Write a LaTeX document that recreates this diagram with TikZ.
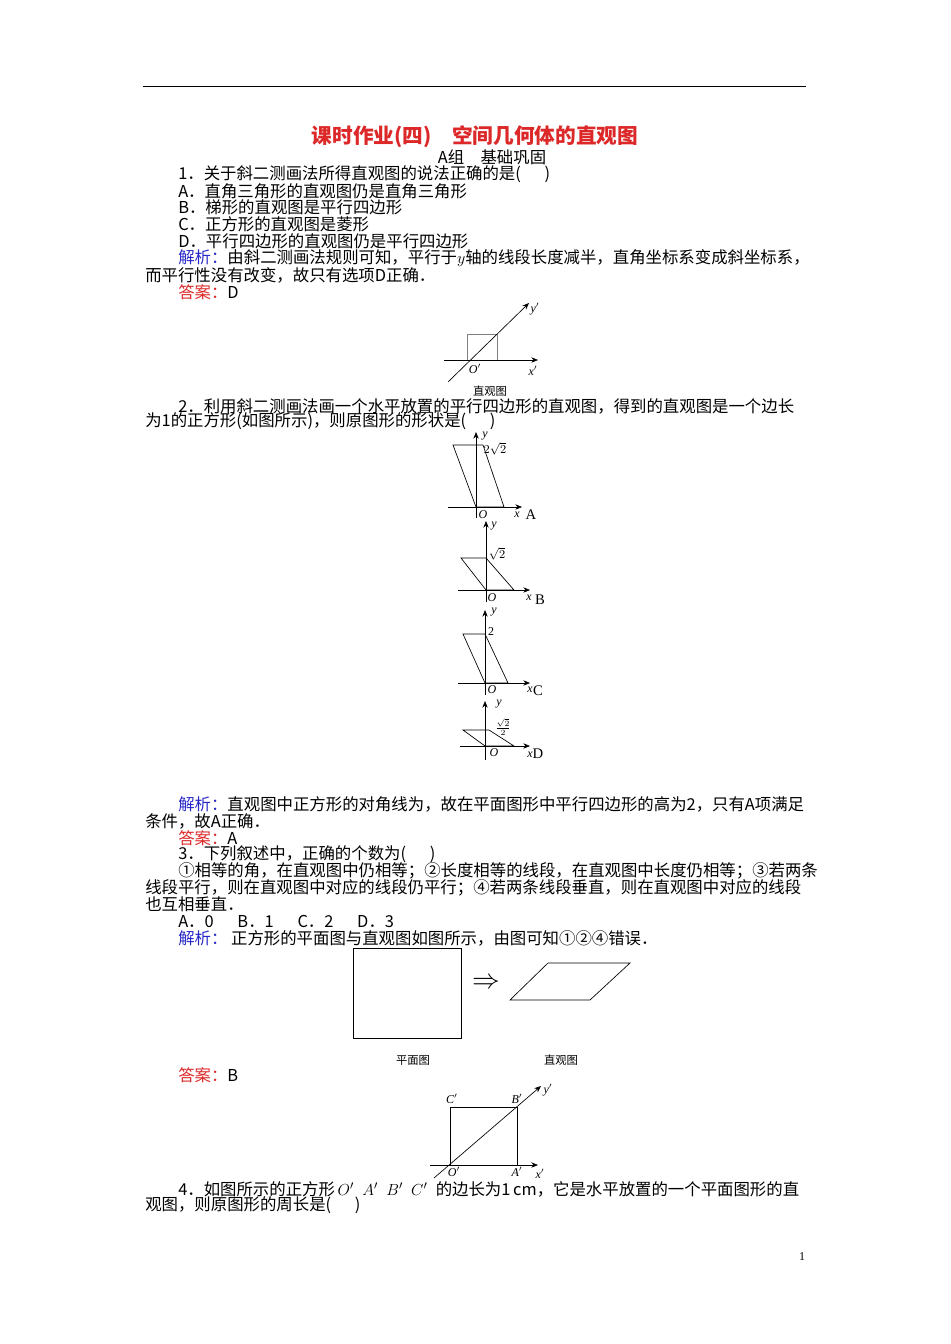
\documentclass[tikz,border=0pt]{standalone}
\usepackage{fontspec}
\setmainfont{Liberation Serif}
\newfontfamily\cjk{Noto Sans CJK SC}
\usetikzlibrary{arrows.meta}
\definecolor{jx}{RGB}{40,40,200}
\definecolor{da}{RGB}{220,40,40}
\tikzset{
 txt/.style={anchor=west,inner sep=0pt,font=\cjk\fontsize{12.3}{13}\selectfont},
 lbl/.style={inner sep=0pt,font=\fontsize{9}{10}\selectfont\itshape},
 capt/.style={inner sep=0pt,font=\cjk\fontsize{8.5}{9}\selectfont},
 ax/.style={-{Stealth[length=5pt,width=4pt]},line width=0.5pt},
 fig/.style={line width=0.5pt}
}
\newcommand{\JX}{{\color{jx}解析：}}
\newcommand{\DA}{{\color{da}答案：}}
\begin{document}
\begin{tikzpicture}[x=0.75pt,y=-0.75pt]
\useasboundingbox[fill=white] (0,0) rectangle (950,1344);
\draw[line width=0.7pt] (143,86) coordinate (r1) -- (806,86) coordinate (r2);
\node[inner sep=0pt,font=\cjk\bfseries\fontsize{15.5}{17}\selectfont,text=da] (title) at (475,137) {课时作业(四)\quad 空间几何体的直观图};
\node[txt,anchor=center] (grp) at (492,157) {A组\quad 基础巩固};
\node[txt] (l1) at (178,174) {1．关于斜二测画法所得直观图的说法正确的是(\quad\ \ )};
\node[txt] (l2) at (178,191) {A．直角三角形的直观图仍是直角三角形};
\node[txt] (l3) at (178,207) {B．梯形的直观图是平行四边形};
\node[txt] (l4) at (178,224) {C．正方形的直观图是菱形};
\node[txt] (l5) at (178,241) {D．平行四边形的直观图仍是平行四边形};
\node[txt] (l6) at (178,258) {\JX 由斜二测画法规则可知，平行于$y$轴的线段长度减半，直角坐标系变成斜坐标系，};
\node[txt] (l7) at (145,275) {而平行性没有改变，故只有选项D正确．};
\node[txt] (l8) at (178,292) {\DA D};
% fig 1
\draw[fig,gray] (467,360) rectangle (497,334);
\coordinate (a1) at (444,360); \coordinate (a2) at (538,360);
\draw[ax] (a1) -- (a2);
\coordinate (d1) at (448,382); \coordinate (d2) at (529,303);
\draw[ax] (d1) -- (d2);
\node[lbl] (o1) at (475,369) {O$'$};
\node[lbl] (x1) at (533,371) {x$'$};
\node[lbl] (y1) at (535,309) {y$'$};
\node[capt] (c1) at (490,391) {直观图};
\node[txt] (l9) at (178,406) {2．利用斜二测画法画一个水平放置的平行四边形的直观图，得到的直观图是一个边长};
\node[txt] (l10) at (145,421) {为1的正方形(如图所示)，则原图形的形状是(\quad\ \ )};
% A
\draw[ax] (448,507) -- (522,507);
\draw[ax] (476,518) -- (476,432);
\draw[fig] (453,445) -- (483,445) -- (504,507) -- (476,507) -- cycle;
\node[lbl,font=\fontsize{9}{10}\selectfont] at (495,449) {$2\sqrt{2}$};
\node[lbl] at (483,515) {O}; \node[lbl] at (517,515) {x}; \node[lbl] at (485,436) {y};
\node[inner sep=0pt,font=\fontsize{11}{11}\selectfont] at (531,515) {A};
% B
\draw[ax] (458,590) -- (530,590);
\draw[ax] (486,602) -- (486,521);
\draw[fig] (461,558) -- (486,558) -- (514,590) -- (486,590) -- cycle;
\node[lbl,font=\fontsize{9}{10}\selectfont] at (497,554) {$\sqrt{2}$};
\node[lbl] at (492,598) {O}; \node[lbl] at (529,598) {x}; \node[lbl] at (494,526) {y};
\node[inner sep=0pt,font=\fontsize{11}{11}\selectfont] at (540,600) {B};
% C
\draw[ax] (458,683) -- (530,683);
\draw[ax] (485,695) -- (485,610);
\draw[fig] (463,634) -- (485,634) -- (508,683) -- (485,683) -- cycle;
\node[lbl,font=\fontsize{9}{10}\selectfont] at (491,632) {2};
\node[lbl] at (492,690) {O}; \node[lbl] at (530,690) {x}; \node[lbl] at (494,612) {y};
\node[inner sep=0pt,font=\fontsize{11}{11}\selectfont] at (538,691) {C};
% D
\draw[ax] (460,746) -- (530,746);
\draw[ax] (485,760) -- (485,701);
\draw[fig] (463,730) -- (489,730) -- (514,746) -- (485,746) -- cycle;
\node[lbl,font=\fontsize{9}{10}\selectfont] at (503,727) {$\frac{\sqrt{2}}{2}$};
\node[lbl] at (494,753) {O}; \node[lbl] at (530,755) {x}; \node[lbl] at (499,704) {y};
\node[inner sep=0pt,font=\fontsize{11}{11}\selectfont] at (538,754) {D};
\node[txt] (l11) at (178,804) {\JX 直观图中正方形的对角线为，故在平面图形中平行四边形的高为2，只有A项满足};
\node[txt] (l12) at (145,821) {条件，故A正确．};
\node[txt] (l13) at (178,838) {\DA A};
\node[txt] (l14) at (178,854) {3．下列叙述中，正确的个数为(\quad\ \ )};
\node[txt] (l15) at (178,871) {①相等的角，在直观图中仍相等；②长度相等的线段，在直观图中长度仍相等；③若两条};
\node[txt] (l16) at (145,888) {线段平行，则在直观图中对应的线段仍平行；④若两条线段垂直，则在直观图中对应的线段};
\node[txt] (l17) at (145,904) {也互相垂直．};
\node[txt] (l18) at (178,921) {A．0\quad\ \ B．1\quad\ \ C．2\quad\ \ D．3};
\node[txt] (l19) at (178,938) {\JX\ 正方形的平面图与直观图如图所示，由图可知①②④错误．};
\draw[fig] (353,948) rectangle (461,1038);
\node[inner sep=0pt,font=\fontsize{20}{20}\selectfont] (arr) at (486,983) {$\Rightarrow$};
\draw[fig] (510,1000) -- (548,963) -- (630,963) -- (590,1000) -- cycle;
\node[capt] (c2) at (413,1060) {平面图};
\node[capt] (c3) at (561,1060) {直观图};
\node[txt] (l20) at (178,1075) {\DA B};
% fig 4
\draw[fig] (450,1165) rectangle (517,1107);
\draw[ax] (430,1165) -- (538,1165);
\draw[ax] (434,1178) -- (541,1086);
\node[lbl] at (452,1099) {C$'$}; \node[lbl] at (517,1099) {B$'$}; \node[lbl] at (548,1090) {y$'$};
\node[lbl] at (454,1172) {O$'$}; \node[lbl] at (517,1172) {A$'$}; \node[lbl] at (540,1174) {x$'$};
\node[txt] (l21) at (178,1189) {4．如图所示的正方形\,$O'$\enspace$A'$\enspace$B'$\enspace$C'$\enspace 的边长为1\,cm，它是水平放置的一个平面图形的直};
\node[txt] (l22) at (145,1205) {观图，则原图形的周长是(\quad\ \ )};
\node[inner sep=0pt,font=\fontsize{9}{10}\selectfont] (pn) at (802,1257) {1};
\end{tikzpicture}
\end{document}
